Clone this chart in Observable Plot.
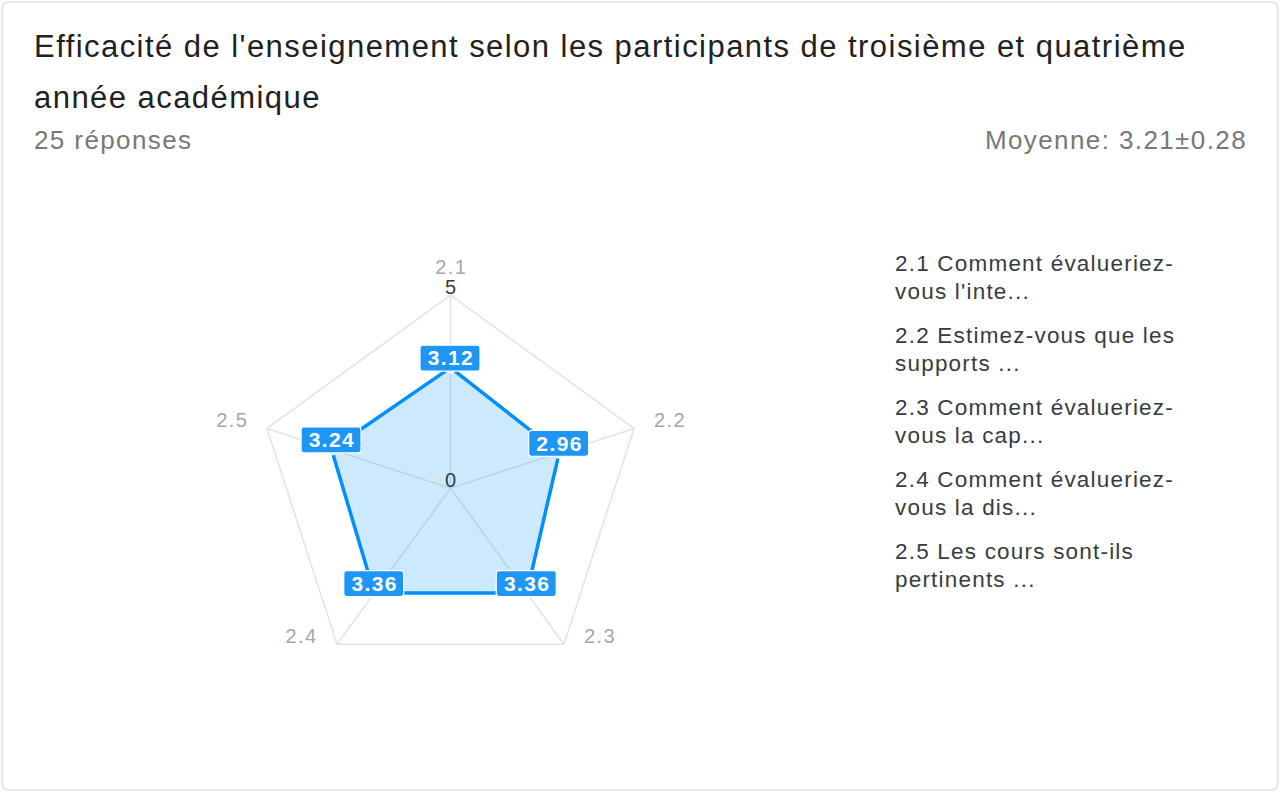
<!DOCTYPE html>
<html>
<head>
<meta charset="utf-8">
<script src="https://cdn.jsdelivr.net/npm/d3@7"></script>
<script src="https://cdn.jsdelivr.net/npm/@observablehq/plot@0.6"></script>
<style>
  html, body { margin: 0; padding: 0; background: #fff; }
  body { width: 1280px; height: 792px; position: relative; overflow: hidden; font-family: "Liberation Sans", Arial, sans-serif; }
  #card { position: absolute; left: 1px; top: 1px; width: 1274px; height: 786px; border: 2px solid #e6e6e6; border-radius: 8px; box-sizing: content-box; }
  #title { position: absolute; left: 34px; top: 21px; width: 1220px; font-size: 31px; line-height: 51px; color: #212121; letter-spacing: 1.45px; }
  .sub { position: absolute; top: 127px; font-size: 26px; line-height: 26px; color: #787878; letter-spacing: 1.4px; white-space: nowrap; }
  #sub-left { left: 34px; }
  #sub-right { right: 33px; }
  #chart { position: absolute; left: 0; top: 0; }
  #chart svg text { letter-spacing: 1.4px; }
  #chart svg g[aria-label="value-label"] text { letter-spacing: 0.8px; }
  #legend { position: absolute; left: 895px; top: 250px; width: 360px; }
  .item { font-size: 22.5px; line-height: 28px; color: #373d3f; margin-bottom: 16px; letter-spacing: 1.2px; white-space: nowrap; }
</style>
</head>
<body>
<div id="card"></div>
<div id="title"></div>
<div class="sub" id="sub-left"></div>
<div class="sub" id="sub-right"></div>
<div id="chart"></div>
<div id="legend"></div>
<script>
const titleText = "Efficacité de l'enseignement selon les participants de troisième et quatrième année académique";
const responsesText = "25 réponses";
const meanText = "Moyenne: 3.21±0.28";
const categories = ["2.1", "2.2", "2.3", "2.4", "2.5"];
const values = [3.12, 2.96, 3.36, 3.36, 3.24];
const valueLabels = ["3.12", "2.96", "3.36", "3.36", "3.24"];
const axisMax = 5;
const axisTicks = [0, 5];
const legendLines = [
  ["2.1 Comment évalueriez-", "vous l'inte..."],
  ["2.2 Estimez-vous que les", "supports ..."],
  ["2.3 Comment évalueriez-", "vous la cap..."],
  ["2.4 Comment évalueriez-", "vous la dis..."],
  ["2.5 Les cours sont-ils", "pertinents ..."]
];

document.getElementById("title").textContent = titleText;
document.getElementById("sub-left").textContent = responsesText;
document.getElementById("sub-right").textContent = meanText;
const legend = document.getElementById("legend");
legendLines.forEach(lines => {
  const d = document.createElement("div");
  d.className = "item";
  lines.forEach((l, k) => {
    if (k) d.appendChild(document.createElement("br"));
    d.appendChild(document.createTextNode(l));
  });
  legend.appendChild(d);
});

const n = categories.length;
const ang = i => 2 * Math.PI * i / n;
const polar = (r, i) => ({x: r * Math.sin(ang(i)), y: r * Math.cos(ang(i))});

const series = values.map((v, i) => ({cat: categories[i], label: valueLabels[i], ...polar(v, i)}));
const ring = categories.map((c, i) => ({cat: c, ...polar(axisMax, i)}));
const spokes = categories.map((c, i) => ({cat: c, x1: 0, y1: 0, x2: polar(axisMax, i).x, y2: polar(axisMax, i).y}));
const tickData = axisTicks.map(t => ({t, ...polar(t, 0)}));

const cx = 450, cy = 487.6, R = 193;
const catAnchor = ["middle", "start", "start", "end", "end"];
const catDx = [0.7, 20, 20, -19.6, -18.6];
const catDy = [-28, -8, -8, -8, -8];

const marks = [
  Plot.line(ring, {x: "x", y: "y", curve: "linear-closed", stroke: "#e3e3e3", strokeWidth: 1.5}),
  Plot.link(spokes, {x1: "x1", y1: "y1", x2: "x2", y2: "y2", stroke: "#e3e3e3", strokeWidth: 1.5}),
  Plot.line(series, {x: "x", y: "y", curve: "linear-closed", stroke: "#008FFB", strokeWidth: 3.5, fill: "#008FFB", fillOpacity: 0.2}),
  Plot.dot(series, {x: "x", y: "y", r: 5, fill: "#008FFB", stroke: "#fff", strokeWidth: 2}),
  Plot.rect(series, {x1: "x", x2: "x", y1: "y", y2: "y", insetLeft: -30, insetRight: -30, insetTop: -22, insetBottom: -4, fill: "#1E96F6", stroke: "#fff", strokeWidth: 1.2, rx: 3}),
  Plot.text(series, {x: "x", y: "y", text: "label", dx: 0.4, dy: -9, fill: "#fff", fontSize: 21, fontWeight: "bold", lineAnchor: "middle", textAnchor: "middle", ariaLabel: "value-label"}),
  Plot.text(tickData, {x: "x", y: "y", text: d => String(d.t), dx: 0.7, dy: -8, fill: "#373d3f", fontSize: 20, lineAnchor: "middle"})
];
categories.forEach((c, i) => {
  marks.push(Plot.text([ring[i]], {x: "x", y: "y", text: "cat", textAnchor: catAnchor[i], dx: catDx[i], dy: catDy[i], fill: "#a6a6a6", fontSize: 20, lineAnchor: "middle"}));
});

const chart = Plot.plot({
  width: 880,
  height: 720,
  margin: 0,
  x: {domain: [-axisMax, axisMax], range: [cx - R, cx + R], axis: null},
  y: {domain: [-axisMax, axisMax], range: [cy + R, cy - R], axis: null},
  style: {fontFamily: "'Liberation Sans', Arial, sans-serif", background: "transparent", overflow: "visible"},
  marks
});
document.getElementById("chart").appendChild(chart);
</script>
</body>
</html>
